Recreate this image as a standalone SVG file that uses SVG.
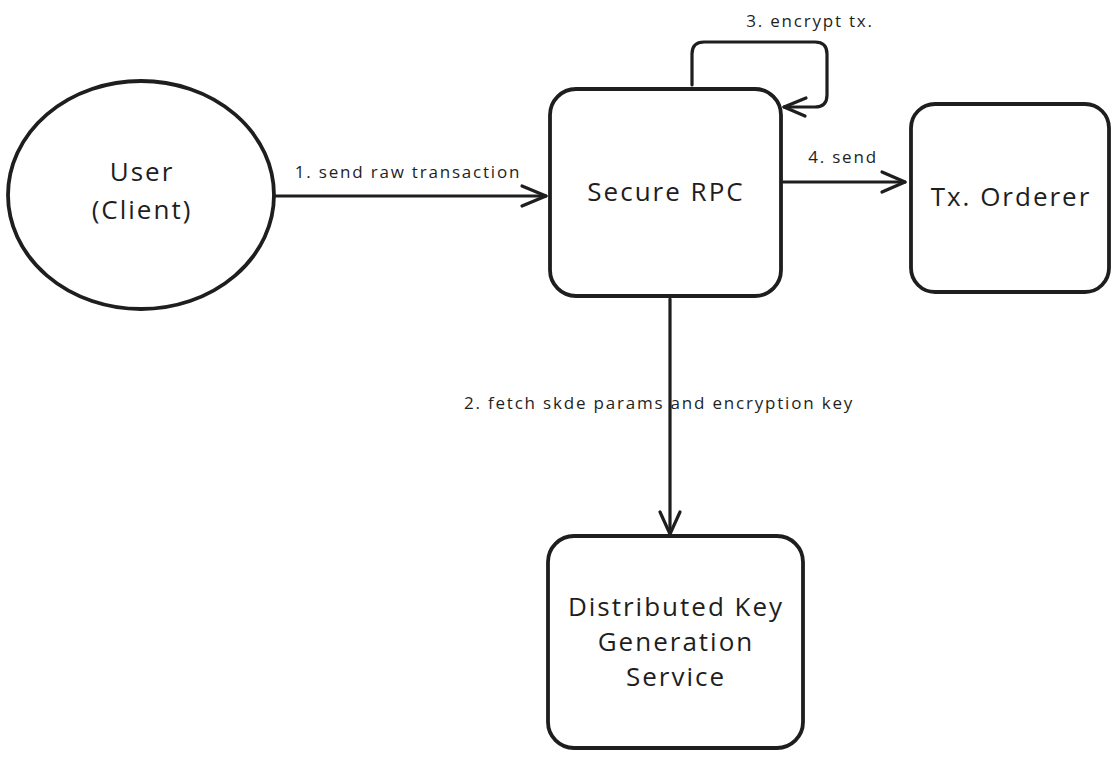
<svg xmlns="http://www.w3.org/2000/svg" width="1117" height="759" viewBox="0 0 1117 759">
<style>
.node{fill:#fff;stroke:#1e1e1e;stroke-width:3.8}
.edge{fill:none;stroke:#1e1e1e;stroke-width:3.2;stroke-linecap:round;stroke-linejoin:round}
.head{fill:none;stroke:#1e1e1e;stroke-width:3.2;stroke-linecap:round;stroke-linejoin:round}
.t{font-family:"Open Sans","Liberation Sans",sans-serif;fill:#1e1e1e;text-anchor:middle}
.big{font-size:26px;letter-spacing:2px}
.lbl{font-size:17px;letter-spacing:1.8px}
</style>
<rect width="1117" height="759" fill="#fff"/>
<g id="connectors">
  <g id="e1">
    <path class="edge" d="M276,196 L546,196"/>
    <path class="head" d="M522,186 L546,196 L522,206"/>
    <text class="t lbl" x="408" y="178">1. send raw transaction</text>
  </g>
  <g id="e2">
    <path class="edge" d="M670,299 L670,534"/>
    <path class="head" d="M660,512 L670,534 L680,512"/>
    <text class="t lbl" x="659" y="409">2. fetch skde params and encryption key</text>
  </g>
  <g id="e3">
    <path class="edge" d="M692,85 L692,54 Q692,42 704,42 L815,42 Q827,42 827,54 L827,95 Q827,107 815,107 L784,107"/>
    <path class="head" d="M806,98 L784,107 L805,116"/>
    <text class="t lbl" x="810" y="27">3. encrypt tx.</text>
  </g>
  <g id="e4">
    <path class="edge" d="M783,182 L905,182"/>
    <path class="head" d="M882,172 L905,182 L882,192"/>
    <text class="t lbl" x="843" y="163">4. send</text>
  </g>
</g>
<g id="user">
  <ellipse class="node" cx="141" cy="195" rx="133" ry="114"/>
  <text class="t big" x="142" y="181">User</text>
  <text class="t big" x="142" y="219">(Client)</text>
</g>
<g id="secure-rpc">
  <rect class="node" x="550" y="89" width="231" height="207" rx="26"/>
  <text class="t big" x="666" y="201">Secure RPC</text>
</g>
<g id="tx-orderer">
  <rect class="node" x="911" y="104" width="198" height="188" rx="24"/>
  <text class="t big" x="1011" y="206">Tx. Orderer</text>
</g>
<g id="dkg">
  <rect class="node" x="548" y="536" width="255" height="212" rx="26"/>
  <text class="t big" x="676" y="616">Distributed Key</text>
  <text class="t big" x="676" y="651">Generation</text>
  <text class="t big" x="676" y="686">Service</text>
</g>
</svg>
